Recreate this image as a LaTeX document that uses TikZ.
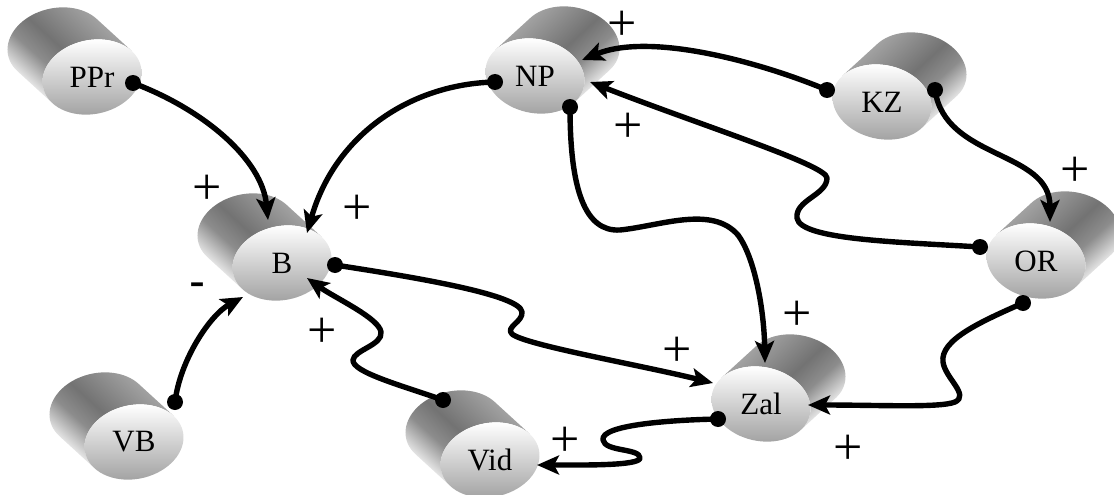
\documentclass[tikz,border=0pt]{standalone}
\usepackage{fontspec}
\setmainfont{Liberation Serif}
\newfontfamily\signfont{Liberation Sans}
\usetikzlibrary{arrows.meta,calc}
\pgfdeclarehorizontalshading{cylbody}{100bp}{color(0bp)=(black!33); color(25bp)=(black!33); color(50bp)=(black!55); color(60bp)=(black!45); color(75bp)=(white); color(100bp)=(white)}
\newcommand\cylRa{50}
\newcommand\cylRb{37}
% #1 name, #2 cx, #3 cy, #4 dx, #5 dy (back offset), #6 tilt, #7 body shading angle
\newcommand\mycyl[7]{%
  \pgfmathsetmacro\cux{cos(#6)}%
  \pgfmathsetmacro\cuy{sin(#6)}%
  \pgfmathsetmacro\cvx{-sin(#6)}%
  \pgfmathsetmacro\cvy{cos(#6)}%
  \pgfmathsetmacro\cdu{(#4)*\cux+(#5)*\cuy}%
  \pgfmathsetmacro\cdv{(#4)*\cvx+(#5)*\cvy}%
  \pgfmathsetmacro\ctA{atan2(-\cylRb*(\cdu),\cylRa*(\cdv))}%
  \pgfmathsetmacro\ctS{atan2(\cylRb*(\cdv),\cylRa*(\cdu))}%
  \pgfmathsetmacro\ctB{sin(\ctS-\ctA)>0 ? \ctA+180 : \ctA-180}%
  \shade[shading=cylbody,shading angle=#7]
    plot[domain=\ctA:\ctB,samples=40]
      ({(#2)+(#4)+\cylRa*cos(\x)*\cux+\cylRb*sin(\x)*\cvx},{(#3)+(#5)+\cylRa*cos(\x)*\cuy+\cylRb*sin(\x)*\cvy})
    -- plot[domain=\ctB:\ctA,samples=40]
      ({(#2)+\cylRa*cos(\x)*\cux+\cylRb*sin(\x)*\cvx},{(#3)+\cylRa*cos(\x)*\cuy+\cylRb*sin(\x)*\cvy})
    -- cycle;
  \shade[top color=white,bottom color=black!36]
    plot[domain=0:360,samples=72]
      ({(#2)+\cylRa*cos(\x)*\cux+\cylRb*sin(\x)*\cvx},{(#3)+\cylRa*cos(\x)*\cuy+\cylRb*sin(\x)*\cvy}) -- cycle;
  \node[lbl] (#1) at (#2,#3) {#1};
}
\tikzset{
  lbl/.style={inner sep=0pt,font=\fontsize{31}{31}\selectfont},
  sign/.style={inner sep=0pt,font=\fontsize{52}{52}\selectfont},
  minus/.style={inner sep=0pt,font=\signfont\fontsize{48}{48}\selectfont},
  conn/.style={line width=5.4pt,line join=round,-{Stealth[length=22pt,width=19pt,inset=5pt]}},
  dot/.style={fill=black}
}
\begin{document}
\begin{tikzpicture}[x=1pt,y=-1pt]
\useasboundingbox (0,0) rectangle (1114,495);
% cylinders (back to the left)
\mycyl{PPr}{92}{77}{-35}{-32}{-12}{228}
\mycyl{B}{282}{263}{-35}{-32}{-12}{228}
\mycyl{VB}{134}{442}{-35}{-32}{-12}{228}
\mycyl{Vid}{490}{460}{-35}{-32}{-12}{228}
% cylinders (back to the right)
\mycyl{NP}{535}{76}{35}{-32}{12}{-48}
\mycyl{KZ}{882}{102}{35}{-32}{12}{-48}
\mycyl{OR}{1036}{261}{35}{-32}{12}{-48}
\mycyl{Zal}{761}{404}{35}{-32}{12}{-48}
% connection points
\coordinate (PPr-o) at ($(PPr)+(41,6)$);
\coordinate (B-a) at ($(B)+(-14,-43)$);
\coordinate (B-b) at ($(B)+(25,-30)$);
\coordinate (B-c) at ($(B)+(-39,34)$);
\coordinate (B-d) at ($(B)+(25,15)$);
\coordinate (B-o) at ($(B)+(53,2)$);
\coordinate (VB-o) at ($(VB)+(41,-40)$);
\coordinate (Vid-o) at ($(Vid)+(-47,-60)$);
\coordinate (Vid-a) at ($(Vid)+(47,5)$);
\coordinate (NP-l) at ($(NP)+(-40,6)$);
\coordinate (NP-b) at ($(NP)+(35,31)$);
\coordinate (NP-c) at ($(NP)+(47,-16)$);
\coordinate (NP-d) at ($(NP)+(55,6)$);
\coordinate (KZ-l) at ($(KZ)+(-55,-12)$);
\coordinate (KZ-r) at ($(KZ)+(53,-12)$);
\coordinate (OR-a) at ($(OR)+(14,-39)$);
\coordinate (OR-l) at ($(OR)+(-56,-14)$);
\coordinate (OR-b) at ($(OR)+(-13,42)$);
\coordinate (Zal-a) at ($(Zal)+(-48,-21)$);
\coordinate (Zal-b) at ($(Zal)+(4,-41)$);
\coordinate (Zal-c) at ($(Zal)+(47,1)$);
\coordinate (Zal-o) at ($(Zal)+(-43,15)$);
% connectors
\draw[conn] (PPr-o) .. controls (205,110) and (262,160) .. (B-a);
\draw[conn] (NP-l) .. controls (410,84) and (335,135) .. (B-b);
\draw[conn] (VB-o) .. controls (180,360) and (210,315) .. (B-c);
\draw[conn] (Vid-o) .. controls (400,385) and (352,372) .. (353,360) .. controls (354,350) and (383,345) .. (381,332) .. controls (379,318) and (335,298) .. (B-d);
\draw[conn] (B-o) .. controls (420,278) and (520,295) .. (522,312) .. controls (523,322) and (505,327) .. (512,334) .. controls (525,345) and (640,365) .. (Zal-a);
\draw[conn] (NP-b) .. controls (570,190) and (585,232) .. (620,230) .. controls (660,226) and (712,205) .. (738,235) .. controls (755,258) and (764,310) .. (Zal-b);
\draw[conn] (KZ-l) .. controls (760,62) and (650,32) .. (NP-c);
\draw[conn] (OR-l) .. controls (900,242) and (800,240) .. (797,218) .. controls (795,200) and (827,195) .. (827,178) .. controls (827,165) and (700,125) .. (NP-d);
\draw[conn] (KZ-r) .. controls (945,160) and (1050,150) .. (OR-a);
\draw[conn] (OR-b) .. controls (980,322) and (940,340) .. (943,362) .. controls (945,378) and (970,395) .. (955,402) .. controls (940,408) and (880,405) .. (Zal-c);
\draw[conn] (Zal-o) .. controls (670,420) and (600,425) .. (603,440) .. controls (605,452) and (640,448) .. (640,458) .. controls (640,466) and (580,465) .. (Vid-a);
% dots
\foreach \p in {PPr-o,NP-l,VB-o,Vid-o,B-o,NP-b,KZ-l,OR-l,KZ-r,OR-b,Zal-o}
  \fill[dot] (\p) circle (8pt);
% signs
\node[sign] (s1) at (207,190) {+};
\node[sign] (s2) at (357,210) {+};
\node[minus] (s3) at (197,290) {-};
\node[sign] (s4) at (322,333) {+};
\node[sign] (s5) at (622,26) {+};
\node[sign] (s6) at (628,128) {+};
\node[sign] (s7) at (1075,172) {+};
\node[sign] (s8) at (797,316) {+};
\node[sign] (s9) at (677,352) {+};
\node[sign] (s10) at (848,450) {+};
\node[sign] (s11) at (565,442) {+};
\end{tikzpicture}
\end{document}
